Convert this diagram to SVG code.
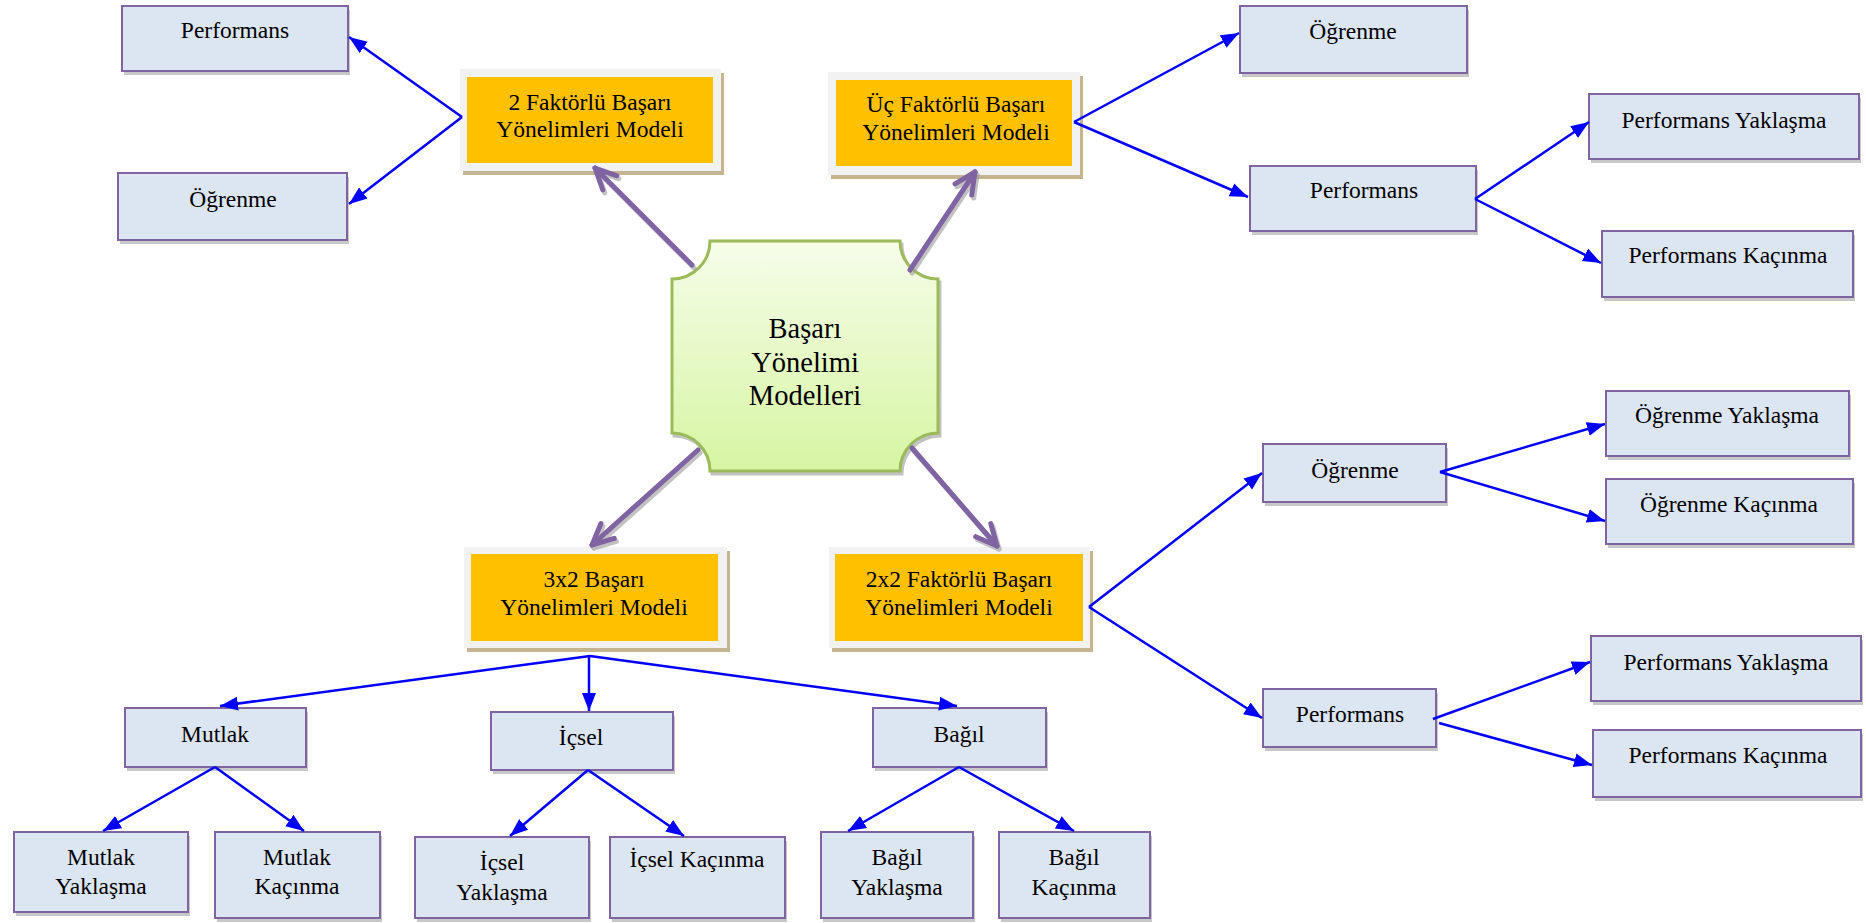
<svg xmlns="http://www.w3.org/2000/svg" width="1866" height="923" viewBox="0 0 1866 923">
<defs>
<style>
.box{fill:#dce6f2;stroke:#8064a2;stroke-width:2}
.sh{fill:#c8c8c8}
.ow{fill:#f2f2f2}
.os{fill:#c4b48f}
.oi{fill:#ffc000}
text{font-family:"Liberation Serif","Times New Roman",serif;font-size:23.5px;fill:#000;text-anchor:middle}
.big{font-size:28.5px}
.blue{stroke:#0000ff;stroke-width:2.5;fill:none;marker-end:url(#ab)}
.pur{stroke:#8064a2;stroke-width:5;fill:none;stroke-linecap:round;marker-end:url(#ap)}
</style>
<marker id="ab" markerUnits="userSpaceOnUse" viewBox="0 0 19 15" refX="18" refY="7.5" markerWidth="19" markerHeight="15" orient="auto">
<path d="M0,0.5 L18,7.5 L0,14.5 z" fill="#0000ff"/>
</marker>
<marker id="ap" markerUnits="userSpaceOnUse" viewBox="-28 -15 32 30" refX="0" refY="0" markerWidth="32" markerHeight="30" orient="auto">
<path d="M-21,-10 L0,0 L-21,10" fill="none" stroke="#8064a2" stroke-width="5" stroke-linecap="round" stroke-linejoin="round"/>
</marker>
<linearGradient id="cg" x1="0" y1="0" x2="0" y2="1">
<stop offset="0" stop-color="#f6fdea"/>
<stop offset="1" stop-color="#d6f5a2"/>
</linearGradient>
<filter id="ds" x="-10%" y="-10%" width="130%" height="130%">
<feDropShadow dx="2" dy="3" stdDeviation="0.6" flood-color="#9a9a9a" flood-opacity="0.6"/>
</filter>
</defs>
<rect width="1866" height="923" fill="#ffffff"/>

<g id="center">
<path d="M710,241 L900,241 A38,38 0 0 0 938,279 L938,433 A38,38 0 0 0 900,471 L710,471 A38,38 0 0 0 672,433 L672,279 A38,38 0 0 0 710,241 Z" fill="url(#cg)" stroke="#9bbb59" stroke-width="3" filter="url(#ds)"/>
<text class="big" x="805" y="338">Başarı</text>
<text class="big" x="805" y="372">Yönelimi</text>
<text class="big" x="805" y="405">Modelleri</text>
</g>

<g id="m2f">
<rect class="os" x="463" y="73" width="261" height="102"/>
<rect class="ow" x="460" y="69" width="261" height="102"/>
<rect class="oi" x="467" y="77" width="246" height="86"/>
<text x="590" y="110">2 Faktörlü Başarı</text>
<text x="590" y="137">Yönelimleri Modeli</text>
</g>
<g id="m3f">
<rect class="os" x="831" y="76" width="252" height="103"/>
<rect class="ow" x="828" y="72" width="252" height="103"/>
<rect class="oi" x="836" y="80" width="236" height="86"/>
<text x="956" y="112">Üç Faktörlü Başarı</text>
<text x="956" y="140">Yönelimleri Modeli</text>
</g>
<g id="m3x2">
<rect class="os" x="467" y="551" width="263" height="101"/>
<rect class="ow" x="464" y="547" width="263" height="101"/>
<rect class="oi" x="471" y="554" width="247" height="87"/>
<text x="594" y="587">3x2 Başarı</text>
<text x="594" y="615">Yönelimleri Modeli</text>
</g>
<g id="m2x2">
<rect class="os" x="832" y="551" width="261" height="101"/>
<rect class="ow" x="829" y="547" width="261" height="101"/>
<rect class="oi" x="835" y="554" width="248" height="87"/>
<text x="959" y="587">2x2 Faktörlü Başarı</text>
<text x="959" y="615">Yönelimleri Modeli</text>
</g>

<g id="n2f-perf"><rect class="sh" x="124" y="10" width="226" height="65"/><rect class="box" x="122" y="6" width="226" height="65"/><text x="235" y="38">Performans</text></g>
<g id="n2f-ogr"><rect class="sh" x="120" y="177" width="229" height="67"/><rect class="box" x="118" y="173" width="229" height="67"/><text x="233" y="207">Öğrenme</text></g>

<g id="n3f-ogr"><rect class="sh" x="1242" y="10" width="227" height="67"/><rect class="box" x="1240" y="6" width="227" height="67"/><text x="1353" y="39">Öğrenme</text></g>
<g id="n3f-perf"><rect class="sh" x="1252" y="170" width="226" height="65"/><rect class="box" x="1250" y="166" width="226" height="65"/><text x="1364" y="198">Performans</text></g>
<g id="n3f-py"><rect class="sh" x="1591" y="98" width="270" height="65"/><rect class="box" x="1589" y="94" width="270" height="65"/><text x="1724" y="128">Performans Yaklaşma</text></g>
<g id="n3f-pk"><rect class="sh" x="1604" y="235" width="251" height="66"/><rect class="box" x="1602" y="231" width="251" height="66"/><text x="1728" y="263">Performans Kaçınma</text></g>

<g id="n22-ogr"><rect class="sh" x="1265" y="448" width="183" height="58"/><rect class="box" x="1263" y="444" width="183" height="58"/><text x="1355" y="478">Öğrenme</text></g>
<g id="n22-oy"><rect class="sh" x="1608" y="395" width="243" height="65"/><rect class="box" x="1606" y="391" width="243" height="65"/><text x="1727" y="423">Öğrenme Yaklaşma</text></g>
<g id="n22-ok"><rect class="sh" x="1608" y="483" width="247" height="65"/><rect class="box" x="1606" y="479" width="247" height="65"/><text x="1729" y="512">Öğrenme Kaçınma</text></g>
<g id="n22-perf"><rect class="sh" x="1265" y="693" width="173" height="58"/><rect class="box" x="1263" y="689" width="173" height="58"/><text x="1350" y="722">Performans</text></g>
<g id="n22-py"><rect class="sh" x="1593" y="640" width="270" height="65"/><rect class="box" x="1591" y="636" width="270" height="65"/><text x="1726" y="670">Performans Yaklaşma</text></g>
<g id="n22-pk"><rect class="sh" x="1595" y="734" width="268" height="67"/><rect class="box" x="1593" y="730" width="268" height="67"/><text x="1728" y="763">Performans Kaçınma</text></g>

<g id="n32-mutlak"><rect class="sh" x="127" y="712" width="181" height="59"/><rect class="box" x="125" y="708" width="181" height="59"/><text x="215" y="742">Mutlak</text></g>
<g id="n32-icsel"><rect class="sh" x="493" y="716" width="182" height="58"/><rect class="box" x="491" y="712" width="182" height="58"/><text x="581" y="745">İçsel</text></g>
<g id="n32-bagil"><rect class="sh" x="875" y="712" width="173" height="59"/><rect class="box" x="873" y="708" width="173" height="59"/><text x="959" y="742">Bağıl</text></g>

<g id="n32-my"><rect class="sh" x="16" y="836" width="174" height="80"/><rect class="box" x="14" y="832" width="174" height="80"/><text x="101" y="865">Mutlak</text><text x="101" y="894">Yaklaşma</text></g>
<g id="n32-mk"><rect class="sh" x="217" y="836" width="165" height="86"/><rect class="box" x="215" y="832" width="165" height="86"/><text x="297" y="865">Mutlak</text><text x="297" y="894">Kaçınma</text></g>
<g id="n32-iy"><rect class="sh" x="417" y="841" width="174" height="81"/><rect class="box" x="415" y="837" width="174" height="81"/><text x="502" y="870">İçsel</text><text x="502" y="900">Yaklaşma</text></g>
<g id="n32-ik"><rect class="sh" x="612" y="841" width="175" height="81"/><rect class="box" x="610" y="837" width="175" height="81"/><text x="697" y="867">İçsel Kaçınma</text></g>
<g id="n32-by"><rect class="sh" x="823" y="836" width="152" height="86"/><rect class="box" x="821" y="832" width="152" height="86"/><text x="897" y="865">Bağıl</text><text x="897" y="895">Yaklaşma</text></g>
<g id="n32-bk"><rect class="sh" x="1001" y="836" width="151" height="86"/><rect class="box" x="999" y="832" width="151" height="86"/><text x="1074" y="865">Bağıl</text><text x="1074" y="895">Kaçınma</text></g>

<g id="connectors">
<g id="purple" filter="url(#ds)">
<path class="pur" d="M692,265 L595,168"/>
<path class="pur" d="M910,270 L975,172"/>
<path class="pur" d="M698,450 L592,545"/>
<path class="pur" d="M912,448 L997,546"/>
</g>
<g id="blue">
<path class="blue" d="M462,117 L349,37"/>
<path class="blue" d="M462,117 L349,204"/>
<path class="blue" d="M1074,122 L1239,33"/>
<path class="blue" d="M1074,122 L1248,197"/>
<path class="blue" d="M1475,199 L1589,122"/>
<path class="blue" d="M1475,199 L1601,263"/>
<path class="blue" d="M1089,607 L1262,473"/>
<path class="blue" d="M1089,607 L1262,718"/>
<path class="blue" d="M1440,472 L1605,424"/>
<path class="blue" d="M1440,472 L1605,521"/>
<path class="blue" d="M1433,719 L1590,662"/>
<path class="blue" d="M1439,723 L1592,765"/>
<path class="blue" d="M590,656 L220,706"/>
<path class="blue" d="M589,656 L589,711"/>
<path class="blue" d="M590,656 L957,706"/>
<path class="blue" d="M215,767 L103,831"/>
<path class="blue" d="M215,767 L304,831"/>
<path class="blue" d="M588,770 L510,836"/>
<path class="blue" d="M588,770 L684,836"/>
<path class="blue" d="M959,767 L848,831"/>
<path class="blue" d="M959,767 L1074,831"/>
</g>
</g>
</svg>
